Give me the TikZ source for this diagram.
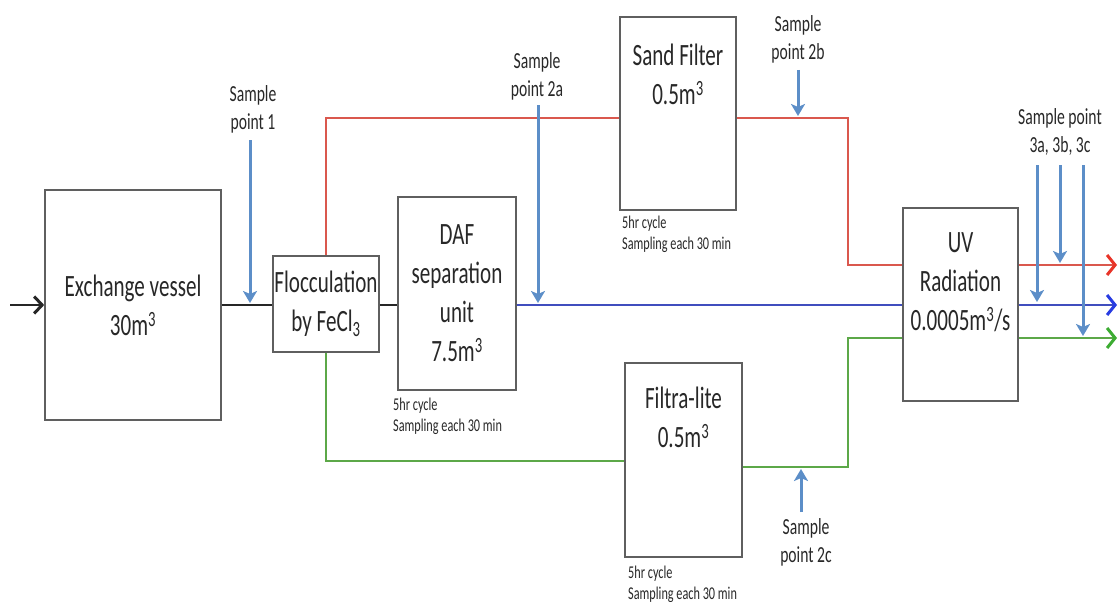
\documentclass[tikz,border=0pt]{standalone}
\usepackage{fontspec}
\setmainfont{Carlito}[FakeStretch=0.68]
\usetikzlibrary{arrows.meta}
\definecolor{boxgray}{RGB}{95,95,95}
\definecolor{redl}{RGB}{218,88,78}
\definecolor{bluel}{RGB}{64,78,190}
\definecolor{greenl}{RGB}{92,168,72}
\definecolor{samp}{RGB}{92,142,200}
\definecolor{redh}{RGB}{232,52,40}
\definecolor{blueh}{RGB}{40,60,225}
\definecolor{greenh}{RGB}{60,172,50}
\definecolor{txt}{RGB}{40,40,40}
\tikzset{
 box/.style={draw=boxgray, line width=1.6pt, fill=white, inner sep=0pt, align=center, text=txt, font=\fontsize{31}{39}\selectfont},
 boxlbl/.style={align=center, text=txt, font=\fontsize{31}{39}\selectfont, inner sep=0pt},
 smp/.style={samp, line width=3pt, -{Stealth[length=12pt,width=14pt,inset=3pt]}},
 smplbl/.style={align=center, font=\fontsize{23}{28}\selectfont, text=txt, inner sep=0pt},
 note/.style={align=left, font=\fontsize{18}{21}\selectfont, text=txt, inner sep=0pt, anchor=north west},
 pipe/.style={line width=2pt},
 outarr/.style={line width=2.5pt}
}
\begin{document}
\begin{tikzpicture}[x=1pt,y=-1pt]
\useasboundingbox (0,0) rectangle (1119,602);
% boxes
\node[box, minimum width=176pt, minimum height=230pt] (ex) at (133,305) {Exchange vessel\\30m\textsuperscript{3}};
\node[box, minimum width=106pt, minimum height=96pt] (floc) at (326,304) {Flocculation\\by FeCl\textsubscript{3}};
\node[box, minimum width=118pt, minimum height=193pt] (daf) at (457,293.5) {DAF\\separation\\unit\\7.5m\textsuperscript{3}};
\node[box, minimum width=116pt, minimum height=193pt,
  label={[boxlbl,anchor=north,yshift=-28pt]north:{Sand Filter\\0.5m\textsuperscript{3}}}] (sand) at (678,113.5) {};
\node[box, minimum width=117pt, minimum height=194pt,
  label={[boxlbl,anchor=north,yshift=-25pt]north:{Filtra-lite\\0.5m\textsuperscript{3}}}] (filt) at (683.5,460) {};
\node[box, minimum width=115pt, minimum height=193pt,
  label={[boxlbl,anchor=north,yshift=-25pt]north:{UV\\Radiation\\0.0005m\textsuperscript{3}/s}}] (uv) at (960.5,304.5) {};
% coordinates
\coordinate (in) at (10,305);
\coordinate (rc1) at (848,118);
\coordinate (rc2) at (848,265);
\coordinate (gl) at (326,461);
\coordinate (gr1) at (848,467);
\coordinate (gr2) at (848,338);
\coordinate (ored) at (1117,265);
\coordinate (oblue) at (1117,305);
\coordinate (ogreen) at (1117,338);
% main line
\draw[line width=2.5pt, black!85, -{Straight Barb[length=8pt,width=17pt,line width=3pt]}] (in) -- (ex.west);
\draw[pipe, black!85] (ex.east) -- (floc.west |- ex.east);
\draw[pipe, black!85] (floc.east |- ex.east) -- (daf.west |- ex.east);
\draw[pipe, bluel] (daf.east |- ex.east) -- (uv.west |- ex.east);
% red branch
\draw[pipe, redl] (floc.north) |- (sand.west |- rc1);
\draw[pipe, redl] (sand.east |- rc1) -- (rc1) -- (rc2) -- (uv.west |- rc2);
% green branch
\draw[pipe, greenl] (floc.south) |- (filt.west |- gl);
\draw[pipe, greenl] (filt.east |- gr1) -- (gr1) -- (gr2) -- (uv.west |- gr2);
% outputs
\draw[outarr, redl, -{Straight Barb[length=8pt,width=20pt,line width=3pt,color=redh]}] (uv.east |- rc2) -- (ored);
\draw[outarr, bluel, -{Straight Barb[length=8pt,width=20pt,line width=3pt,color=blueh]}] (uv.east |- oblue) -- (oblue);
\draw[outarr, greenl, -{Straight Barb[length=8pt,width=20pt,line width=3pt,color=greenh]}] (uv.east |- gr2) -- (ogreen);
% sample points
\node[smplbl] (l1) at (253,109) {Sample\\point 1};
\node[smplbl] (l2a) at (537,76) {Sample\\point 2a};
\node[smplbl] (l2b) at (798,39) {Sample\\point 2b};
\node[smplbl] (l2c) at (806,542) {Sample\\point 2c};
\node[smplbl] (l3) at (1060,132) {Sample point\\3a, 3b, 3c};
\coordinate (s1a) at (250,140); \coordinate (s1b) at (250,303);
\coordinate (s2aa) at (538,105); \coordinate (s2ab) at (538,303);
\coordinate (s2ba) at (798,70); \coordinate (s2bb) at (798,116);
\coordinate (s2ca) at (801,512); \coordinate (s2cb) at (801,469);
\coordinate (s3aa) at (1037,165); \coordinate (s3ab) at (1037,302);
\coordinate (s3ba) at (1060,165); \coordinate (s3bb) at (1060,263);
\coordinate (s3ca) at (1083,165); \coordinate (s3cb) at (1083,336);
\draw[smp] (s1a) -- (s1b);
\draw[smp] (s2aa) -- (s2ab);
\draw[smp] (s2ba) -- (s2bb);
\draw[smp] (s2ca) -- (s2cb);
\draw[smp] (s3aa) -- (s3ab);
\draw[smp] (s3ba) -- (s3bb);
\draw[smp] (s3ca) -- (s3cb);
% notes
\node[note] (n1) at (393,398) {5hr cycle\\Sampling each 30 min};
\node[note] (n2) at (622,216) {5hr cycle\\Sampling each 30 min};
\node[note] (n3) at (628,566) {5hr cycle\\Sampling each 30 min};
\end{tikzpicture}
\end{document}
